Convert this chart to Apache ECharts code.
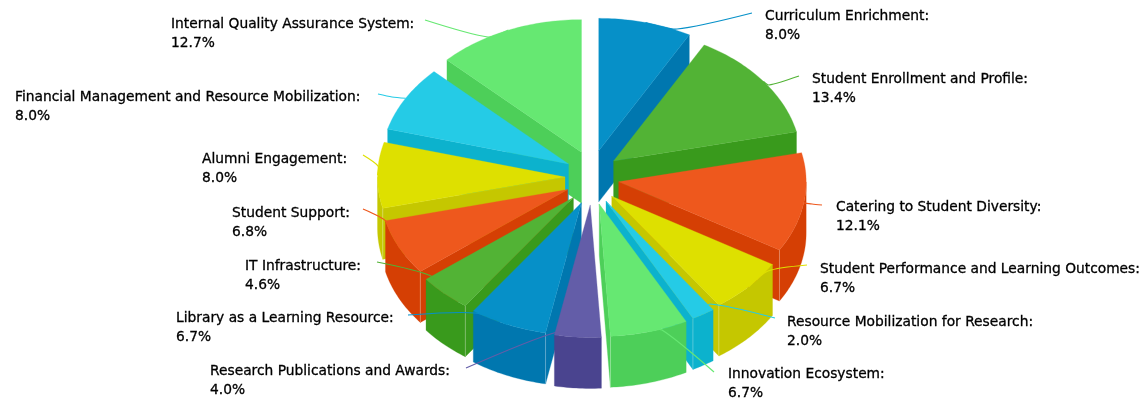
<!DOCTYPE html>
<html>
<head>
<meta charset="utf-8">
<style>html,body{margin:0;padding:0;background:#fff}#c{width:1144px;height:401px}</style>
<script src="https://cdn.jsdelivr.net/npm/echarts@6/dist/echarts.min.js"></script>
</head>
<body>
<div id="c"></div>
<script>
// ---- data ----
const names = [
  'Curriculum Enrichment','Student Enrollment and Profile','Catering to Student Diversity',
  'Student Performance and Learning Outcomes','Resource Mobilization for Research','Innovation Ecosystem',
  'Research Publications and Awards','Library as a Learning Resource','IT Infrastructure',
  'Student Support','Alumni Engagement','Financial Management and Resource Mobilization',
  'Internal Quality Assurance System'
];
const values = [8.0,13.4,12.1,6.7,2.0,6.7,4.0,6.7,4.6,6.8,8.0,8.0,12.7];
const palette = ['#0690c8','#52b335','#ee581d','#dee000','#25cbe6','#66e872','#635da8'];
const sidePalette = ['#0077af','#399a1c','#d53f04','#c5c700','#0cb2cd','#4dcf59','#4a448f'];

// ---- layout ----
const CX = 592, CY = 177.5, RX = 187.5, RY = 132.5, DEPTH = 51, PULL_X = 27, PULL_Y = 27.5;
const FONT = '13.8px "DejaVu Sans"', LINE_H = 19;
// text left/top, then the tick's bend point and end point
const labelLayout = [
  {x:765,y:7,  bend:[677,29], end:[752,13]},
  {x:812,y:70, bend:[769,85], end:[799,76]},
  {x:836,y:198,bend:[812,204],end:[822,205]},
  {x:820,y:260,bend:[768,271],end:[807,265]},
  {x:787,y:313,bend:[710,304],end:[775,318]},
  {x:728,y:365,bend:[662,330],end:[714,372]},
  {x:210,y:362,bend:[557,332],end:[466,368]},
  {x:176,y:309,bend:[475,313],end:[408,315]},
  {x:245,y:257,bend:[431,276],end:[377,262]},
  {x:232,y:204,bend:[387,222],end:[363,209]},
  {x:202,y:150,bend:[378,166],end:[363,155]},
  {x:15, y:88, bend:[392,97], end:[378,94]},
  {x:171,y:15, bend:[488,37], end:[425,20]}
];

// ---- geometry derived from the values ----
const total = values.reduce((a,b)=>a+b,0);
const rad = d => d*Math.PI/180;
let run = 0;
const slices = values.map((v,i)=>{
  const s = run/total*360; run += v; const e = run/total*360; const m=(s+e)/2;
  return {i,s,e,m,ax:CX+PULL_X*Math.sin(rad(m)),ay:CY-PULL_Y*Math.cos(rad(m))};
});
const pt = (sl,a,d=0)=>[sl.ax+RX*Math.sin(rad(a)), sl.ay-RY*Math.cos(rad(a))+d];
const arc = (sl,a,b,d=0)=>{const n=Math.max(2,Math.ceil(Math.abs(b-a)));const o=[];for(let k=0;k<=n;k++)o.push(pt(sl,a+(b-a)*k/n,d));return o;};
const order = slices.slice().sort((p,q)=>Math.cos(rad(q.m))-Math.cos(rad(p.m))).map(s=>s.i);

function renderSlice(params, api){
  const sl = slices[api.value(0)];
  const top = palette[sl.i%7], side = sidePalette[sl.i%7];
  const kids=[];
  const poly=(points,fill)=>kids.push({type:'polygon',shape:{points},style:{fill,stroke:fill,lineWidth:0.3}});
  const cut=(a)=>{const c=pt(sl,a);poly([[sl.ax,sl.ay],c,[c[0],c[1]+DEPTH],[sl.ax,sl.ay+DEPTH]],side);};
  const startVisible=Math.sin(rad(sl.s))<0, endVisible=Math.sin(rad(sl.e))>0;
  if(startVisible) cut(sl.s);
  if(endVisible) cut(sl.e);
  const a=Math.max(sl.s,90), b=Math.min(sl.e,270);
  if(b>a){
    poly(arc(sl,a,b).concat(arc(sl,b,a,DEPTH)),side);
    const edge=[];
    if(startVisible&&sl.s>=90&&sl.s<=270) edge.push(sl.s);
    if(endVisible&&sl.e>=90&&sl.e<=270) edge.push(sl.e);
    edge.forEach(t=>{const c=pt(sl,t);kids.push({type:'line',shape:{x1:c[0],y1:c[1],x2:c[0],y2:c[1]+DEPTH},style:{stroke:'rgba(255,255,255,0.28)',lineWidth:1}});});
  }
  poly([[sl.ax,sl.ay]].concat(arc(sl,sl.s,sl.e)),top);
  return {type:'group',children:kids};
}
function renderLabel(params, api){
  const sl = slices[api.value(0)], L = labelLayout[sl.i];
  return {type:'group',children:[
    {type:'polyline',shape:{points:[pt(sl,sl.m),L.bend,L.end],smooth:0.25},
     style:{fill:'none',stroke:palette[sl.i%7],lineWidth:1.2}},
    {type:'text',x:L.x,y:L.y,style:{text:names[sl.i]+':\n'+values[sl.i].toFixed(1)+'%',font:FONT,lineHeight:LINE_H,fill:'#000',stroke:'#000',lineWidth:0.3,textAlign:'left',textVerticalAlign:'top'}}
  ]};
}
const chart = echarts.init(document.getElementById('c'),null,{renderer:'canvas'});
chart.setOption({
  animation:false,
  backgroundColor:'#fff',
  series:[
    {type:'custom',coordinateSystem:'none',renderItem:renderSlice,data:order.map(i=>[i]),silent:true,z:1},
    {type:'custom',coordinateSystem:'none',renderItem:renderLabel,data:order.map(i=>[i]),silent:true,z:2}
  ]
});
</script>
</body>
</html>
